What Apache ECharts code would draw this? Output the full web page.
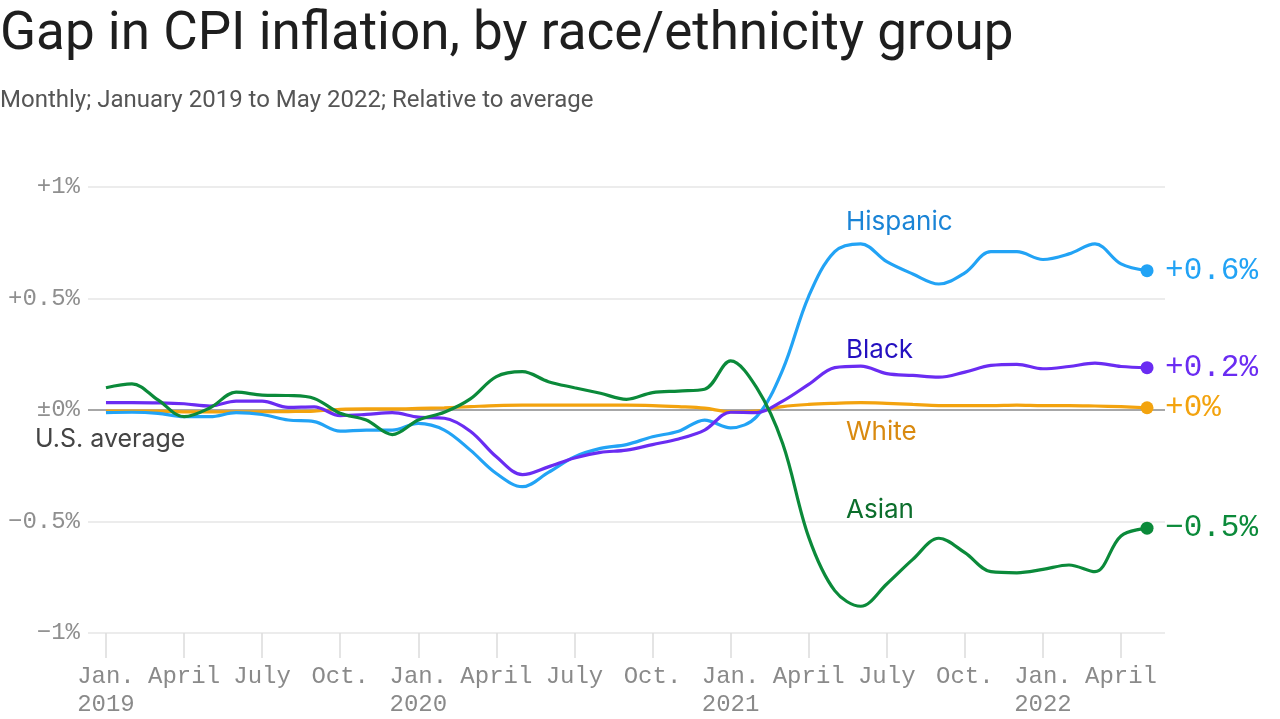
<!DOCTYPE html>
<html>
<head>
<meta charset="utf-8">
<script src="https://cdn.jsdelivr.net/npm/echarts@6/dist/echarts.min.js"></script>
<style>
html,body{margin:0;padding:0;background:#fff;}
#chart{width:1280px;height:719px;}
</style>
</head>
<body>
<div id="chart"></div>
<script>
// Months: January 2019 .. May 2022
const months = ['2019-01','2019-02','2019-03','2019-04','2019-05','2019-06','2019-07','2019-08','2019-09','2019-10','2019-11','2019-12',
  '2020-01','2020-02','2020-03','2020-04','2020-05','2020-06','2020-07','2020-08','2020-09','2020-10','2020-11','2020-12',
  '2021-01','2021-02','2021-03','2021-04','2021-05','2021-06','2021-07','2021-08','2021-09','2021-10','2021-11','2021-12',
  '2022-01','2022-02','2022-03','2022-04','2022-05'];

const hispanic = [-0.012,-0.01,-0.015,-0.03,-0.03,-0.012,-0.02,-0.045,-0.052,-0.095,-0.09,-0.09,
  -0.06,-0.09,-0.18,-0.285,-0.344,-0.28,-0.21,-0.172,-0.155,-0.12,-0.095,-0.045,
  -0.08,-0.03,0.18,0.51,0.71,0.745,0.665,0.61,0.565,0.615,0.71,0.71,
  0.675,0.70,0.745,0.655,0.625];
const black = [0.033,0.033,0.032,0.028,0.018,0.04,0.04,0.012,0.014,-0.025,-0.02,-0.012,
  -0.032,-0.037,-0.095,-0.21,-0.29,-0.255,-0.215,-0.19,-0.18,-0.155,-0.13,-0.09,
  -0.01,-0.012,0.04,0.115,0.19,0.197,0.163,0.155,0.147,0.17,0.2,0.205,
  0.185,0.195,0.21,0.195,0.19];
const white = [-0.005,-0.005,-0.005,-0.008,-0.008,-0.008,-0.008,-0.007,-0.005,0.003,0.005,0.005,
  0.007,0.01,0.015,0.02,0.022,0.022,0.022,0.022,0.022,0.02,0.015,0.008,
  -0.008,-0.005,0.015,0.025,0.03,0.033,0.03,0.025,0.02,0.02,0.02,0.022,
  0.02,0.02,0.018,0.015,0.01];
const asian = [0.10,0.117,0.045,-0.03,0.01,0.08,0.067,0.065,0.052,-0.015,-0.045,-0.11,
  -0.045,-0.01,0.05,0.15,0.172,0.127,0.10,0.075,0.048,0.078,0.085,0.093,
  0.22,0.10,-0.15,-0.57,-0.81,-0.88,-0.78,-0.67,-0.575,-0.64,-0.725,-0.73,
  -0.715,-0.695,-0.725,-0.565,-0.53];

const xTickIndex = [0,3,6,9,12,15,18,21,24,27,30,33,36,39];
const xTickLabels = ['Jan.\n2019','April','July','Oct.','Jan.\n2020','April','July','Oct.','Jan.\n2021','April','July','Oct.','Jan.\n2022','April'];
const yTicks = [-1,-0.5,0,0.5,1];
const yTickLabels = ['\u22121%','\u22120.5%','\u00b10%','+0.5%','+1%'];

const seriesNames = ['Hispanic','Black','White','Asian'];
const endLabels = ['+0.6%','+0.2%','+0%','\u22120.5%'];
const seriesValues = [hispanic, black, white, asian];

const lineColors = ['#22a3f5','#6a2cf2','#f3a30e','#0b8a3a'];
const nameColors = ['#1a84d6','#2410c0','#d98a10','#0c6e2c'];

const MONO = '"Liberation Mono", "DejaVu Sans Mono", monospace';
const SANS = 'Inter, Roboto, sans-serif';

const chart = echarts.init(document.getElementById('chart'), null, {renderer:'canvas'});

const series = seriesValues.map((vals, s) => {
  const last = vals.length - 1;
  return {
    name: seriesNames[s],
    type: 'line',
    data: vals.map((v, i) => [i, v]),
    smooth: 0.35,
    showSymbol: true,
    showAllSymbol: true,
    symbol: 'circle',
    symbolSize: (v, p) => p.dataIndex === last ? 13 : 0,
    lineStyle: {width: 3.2, color: lineColors[s]},
    itemStyle: {color: lineColors[s]},
    z: [3,4,2,5][s],
    silent: true,
    endLabel: {
      show: true,
      formatter: () => endLabels[s],
      color: lineColors[s],
      fontFamily: MONO,
      fontSize: 31,
      distance: 18
    }
  };
});

chart.setOption({
  animation: false,
  backgroundColor: '#fff',
  grid: {left: 88, right: 115, top: 187, bottom: 75},
  xAxis: {
    type: 'value',
    min: -0.69,
    max: 40.69,
    axisLine: {show: false, onZero: false},
    splitLine: {show: false},
    axisTick: {show: true, customValues: xTickIndex, length: 25, lineStyle: {color: '#dcdcdc', width: 1.5}},
    axisLabel: {
      show: true,
      customValues: xTickIndex,
      formatter: v => xTickLabels[xTickIndex.indexOf(Math.round(v))] || '',
      fontFamily: MONO,
      fontSize: 24,
      color: '#8a8a8a',
      lineHeight: 28,
      margin: 30,
      align: 'center',
      verticalAlign: 'top'
    }
  },
  yAxis: {
    type: 'value',
    min: -1,
    max: 1,
    interval: 0.5,
    axisLine: {show: false},
    axisTick: {show: false},
    axisLabel: {
      formatter: v => yTickLabels[yTicks.indexOf(v)] || '',
      fontFamily: MONO,
      fontSize: 24,
      color: '#8f8f8f',
      margin: 8
    },
    splitLine: {lineStyle: {color: ['#e6e6e6','#e6e6e6','#8a8a8a','#e6e6e6','#e6e6e6'], width: 1.5}}
  },
  graphic: [
    {type:'text', left: 0, top: 9, style:{text:'Gap in CPI inflation, by race/ethnicity group', fontFamily:'Roboto, sans-serif', fontSize:53, fill:'#1e1e1e'}},
    {type:'text', left: 0, top: 89, style:{text:'Monthly; January 2019 to May 2022; Relative to average', fontFamily:'Roboto, sans-serif', fontSize:24, fill:'#555'}},
    {type:'text', left: 35, top: 427, style:{text:'U.S. average', fontFamily:SANS, fontSize:25, fill:'#444'}},
    {type:'text', left: 846, top: 209, style:{text:seriesNames[0], fontFamily:SANS, fontSize:26, fill:nameColors[0]}},
    {type:'text', left: 846, top: 337, style:{text:seriesNames[1], fontFamily:SANS, fontSize:26, fill:nameColors[1]}},
    {type:'text', left: 846, top: 419, style:{text:seriesNames[2], fontFamily:SANS, fontSize:26, fill:nameColors[2]}},
    {type:'text', left: 846, top: 497, style:{text:seriesNames[3], fontFamily:SANS, fontSize:26, fill:nameColors[3]}}
  ],
  series: series
});
</script>
</body>
</html>
